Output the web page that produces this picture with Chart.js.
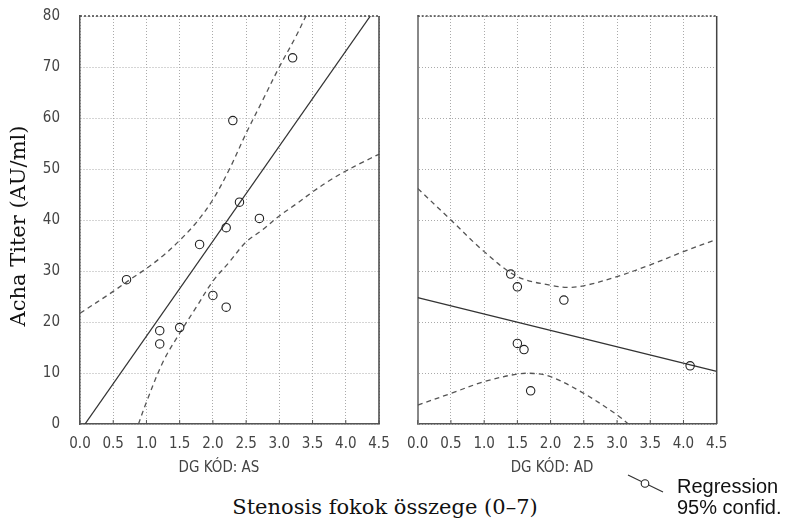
<!DOCTYPE html>
<html>
<head>
<meta charset="utf-8">
<script src="https://cdn.jsdelivr.net/npm/chart.js@4/dist/chart.umd.min.js"></script>
<style>
  html, body { margin:0; padding:0; background:#fff; }
  body { width:788px; height:519px; position:relative; overflow:hidden; }
  .abs { position:absolute; white-space:nowrap; }
  .serif { font-family:'DejaVu Serif', serif; font-size:21px; color:#111; }
  .sub { font-family:'Liberation Sans Narrow','DejaVu Sans Condensed','Liberation Sans',sans-serif; font-size:15px; color:#444; text-align:center; }
  .leg { font-family:'Liberation Sans', Arial, sans-serif; font-size:20px; color:#111; }
</style>
</head>
<body>
<canvas id="ca" class="abs" width="392" height="480" style="left:0;top:0;"></canvas>
<canvas id="cb" class="abs" width="330" height="480" style="left:400px;top:0;"></canvas>

<div class="abs serif" style="left:-132px;top:213px;width:300px;height:26px;line-height:26px;text-align:center;transform:rotate(-90deg);">Acha Titer (AU/ml)</div>
<div class="abs serif" style="left:85px;top:494px;width:600px;height:26px;line-height:26px;text-align:center;">Stenosis fokok összege (0–7)</div>
<div class="abs sub" style="left:119px;top:457px;width:200px;line-height:20px;">DG KÓD: AS</div>
<div class="abs sub" style="left:452px;top:457px;width:200px;line-height:20px;">DG KÓD: AD</div>

<svg class="abs" style="left:625px;top:472px;" width="44" height="26">
  <line x1="3" y1="3" x2="38" y2="20" stroke="#333" stroke-width="1.2"/>
  <circle cx="20" cy="11.5" r="3.8" fill="#fff" stroke="#222" stroke-width="1.1"/>
</svg>
<div class="abs leg" style="left:677px;top:474px;line-height:24px;">Regression</div>
<div class="abs leg" style="left:677px;top:495px;line-height:24px;">95% confid.</div>

<script>
// ---------- data ----------
const xTicks = [0, 0.5, 1, 1.5, 2, 2.5, 3, 3.5, 4, 4.5];
const xTickLabels = ['0.0','0.5','1.0','1.5','2.0','2.5','3.0','3.5','4.0','4.5'];
const yTicks = [0, 10, 20, 30, 40, 50, 60, 70, 80];
const yTickLabels = ['0','10','20','30','40','50','60','70','80'];

// Panel AS
const asX = [0.7, 1.2, 1.2, 1.5, 1.8, 2.0, 2.2, 2.2, 2.3, 2.4, 2.7, 3.2];
const asY = [28.3, 18.3, 15.7, 18.9, 35.2, 25.2, 22.9, 38.5, 59.5, 43.5, 40.3, 71.8];
const asFitX = [0.075, 4.37];
const asFitY = [0, 80];
const asUpX = [0, 0.5, 0.75, 1, 1.25, 1.5, 1.75, 2, 2.25, 2.5, 2.75, 3, 3.25, 3.4];
const asUpY = [21.7, 26, 28.3, 30.5, 33, 36, 39.5, 44, 50, 57, 63.5, 70, 76, 80];
const asLoX = [0.88, 1, 1.25, 1.5, 1.75, 2, 2.25, 2.5, 2.75, 3, 3.25, 3.5, 3.75, 4, 4.25, 4.5];
const asLoY = [0, 4.3, 12.2, 17.8, 22.9, 28, 31.8, 35.7, 38.1, 40.8, 43.1, 45.5, 47.7, 49.6, 51.3, 52.9];

// Panel AD
const adX = [1.4, 1.5, 2.2, 1.5, 1.6, 1.7, 4.1];
const adY = [29.4, 26.9, 24.3, 15.8, 14.6, 6.5, 11.4];
const adFitX = [0, 4.5];
const adFitY = [24.8, 10.3];
const adUpX = [0, 0.5, 1, 1.5, 2, 2.25, 2.5, 3, 3.5, 4, 4.5];
const adUpY = [46.2, 40.0, 33.8, 28.9, 27.2, 26.8, 27.1, 28.9, 31.2, 33.8, 36.2];
const adLoX = [0, 0.5, 1, 1.5, 1.75, 2, 2.5, 3, 3.17];
const adLoY = [3.7, 6.0, 8.3, 9.8, 9.9, 9.3, 6.0, 1.8, 0];

// ---------- helpers ----------
const pts = (xs, ys) => xs.map((x, i) => ({x, y: ys[i]}));
const tickFont = {family: "'Liberation Sans Narrow','DejaVu Sans Condensed','Liberation Sans',sans-serif", size: 15};

const framePlugin = {
  id: 'frame',
  afterDraw(chart) {
    const {ctx, chartArea: a, scales} = chart;
    ctx.save();
    // right border
    ctx.strokeStyle = '#444';
    ctx.lineWidth = 1.5;
    ctx.beginPath();
    ctx.moveTo(a.right, a.top); ctx.lineTo(a.right, a.bottom);
    ctx.stroke();
    // small inward ticks on the bottom axis
    ctx.lineWidth = 1;
    ctx.strokeStyle = '#555';
    ctx.beginPath();
    scales.x.ticks.forEach(t => {
      const px = scales.x.getPixelForValue(t.value);
      ctx.moveTo(px, a.bottom); ctx.lineTo(px, a.bottom - 4);
    });
    ctx.stroke();
    // dotted top border
    ctx.setLineDash([2, 2]);
    ctx.lineWidth = 1.5;
    ctx.strokeStyle = '#444';
    ctx.beginPath();
    ctx.moveTo(a.left, a.top); ctx.lineTo(a.right, a.top);
    ctx.stroke();
    ctx.restore();
  }
};

function makeChart(id, X, Y, fitX, fitY, upX, upY, loX, loY, showY, yWidth, topPad, rightPad) {
  const dashed = {
    type: 'line', borderColor: '#555', borderWidth: 1.3, borderDash: [5, 4],
    pointRadius: 0, fill: false, tension: 0.35, order: 2
  };
  return new Chart(document.getElementById(id), {
    type: 'scatter',
    data: {
      datasets: [
        {label: 'pts', data: pts(X, Y), pointStyle: 'circle', pointRadius: 4.2,
         pointBorderWidth: 1.1, pointBorderColor: '#222', pointBackgroundColor: 'rgba(255,255,255,0)', order: 1},
        {label: 'fit', type: 'line', data: pts(fitX, fitY), borderColor: '#333', borderWidth: 1.3,
         pointRadius: 0, fill: false, order: 3},
        Object.assign({label: 'up', data: pts(upX, upY)}, dashed),
        Object.assign({label: 'lo', data: pts(loX, loY)}, dashed)
      ]
    },
    options: {
      responsive: false,
      animation: false,
      layout: {padding: {top: topPad, right: rightPad, bottom: 0, left: 0}},
      plugins: {legend: {display: false}, tooltip: {enabled: false}},
      scales: {
        x: {
          type: 'linear', min: 0, max: 4.5,
          afterBuildTicks: s => { s.ticks = xTicks.map(v => ({value: v})); },
          afterFit: s => { s.height = 56; s.paddingLeft = 0; s.paddingRight = 0; },
          ticks: {callback: (v, i) => xTickLabels[i], color: '#444', font: tickFont, padding: 11, maxRotation: 0, autoSkip: false},
          grid: {color: '#aaaaaa', lineWidth: 1, drawTicks: false},
          border: {display: true, color: '#555', width: 1.5, dash: [1, 2]}
        },
        y: {
          type: 'linear', min: 0, max: 80,
          afterBuildTicks: s => { s.ticks = yTicks.map(v => ({value: v})); },
          afterFit: s => { s.width = yWidth; s.paddingTop = 0; s.paddingBottom = 0; },
          ticks: {display: showY, callback: (v, i) => yTickLabels[i], color: '#444', font: tickFont, padding: 20},
          grid: {color: '#aaaaaa', lineWidth: 1, drawTicks: false},
          border: {display: true, color: showY ? '#555' : '#888', width: showY ? 1.5 : 2, dash: [1, 2]}
        }
      }
    },
    plugins: [framePlugin]
  });
}

makeChart('ca', asX, asY, asFitX, asFitY, asUpX, asUpY, asLoX, asLoY, true, 80, 16, 13);
makeChart('cb', adX, adY, adFitX, adFitY, adUpX, adUpY, adLoX, adLoY, false, 17.7, 16, 13.3);
</script>
</body>
</html>
